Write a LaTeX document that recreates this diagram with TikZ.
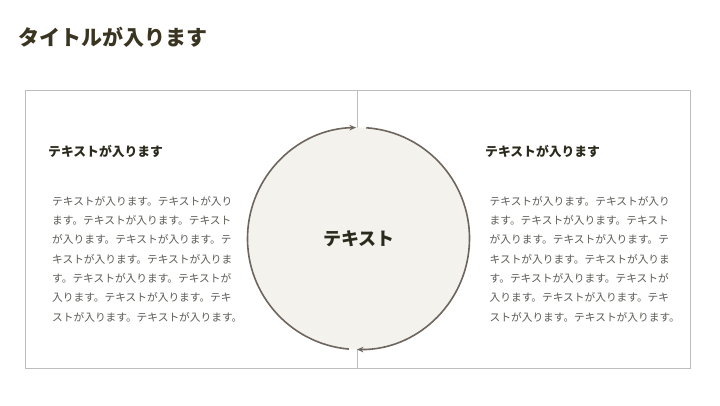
\documentclass[tikz,border=0pt]{standalone}
\usepackage{fontspec}
\newfontfamily\jp{Noto Sans CJK JP}
\usetikzlibrary{arrows.meta}
\definecolor{titlecol}{HTML}{3A3520}
\definecolor{headcol}{HTML}{2B2A1C}
\definecolor{bodycol}{HTML}{5A5A55}
\definecolor{framecol}{HTML}{BDBDBD}
\definecolor{circfill}{HTML}{F3F2EC}
\definecolor{arccol}{HTML}{6E665E}
\tikzset{
  frame/.style={draw=framecol, line width=1pt},
  divider/.style={draw=framecol, line width=1pt},
  cyclearc/.style={draw=arccol, line width=1.6pt, -{Stealth[length=6.5pt,width=5.5pt]}},
  heading/.style={anchor=west, inner sep=0pt, text=headcol, font=\jp\bfseries\fontsize{12.8}{15}\selectfont},
  bodytext/.style={anchor=north west, inner sep=0pt, align=left, text=bodycol, font=\jp\fontsize{10.7}{19.3}\selectfont},
}
\begin{document}
\begin{tikzpicture}[x=1pt,y=-1pt]
\useasboundingbox (0,0) rectangle (720,405);
\fill[white] (0,0) rectangle (720,405);
\node[anchor=west, inner sep=0pt, text=titlecol, font=\jp\bfseries\fontsize{21}{24}\selectfont] (title) at (18,37) {タイトルが入ります};
\draw[frame] (25,90) rectangle (690,368);
\coordinate (topmid) at (357.5,90);
\coordinate (botmid) at (357.5,368);
\draw[divider] (topmid) -- (botmid);
\coordinate (c) at (358.5,238.5);
\fill[circfill] (c) circle[radius=111];
\draw[cyclearc] ([shift={(-86:111)}]c) arc[start angle=-86, end angle=90.8, radius=111];
\draw[cyclearc] ([shift={(95:111)}]c) arc[start angle=95, end angle=268.7, radius=111];
\node[inner sep=0pt, text=headcol, font=\jp\bfseries\fontsize{18}{20}\selectfont] (center) at (359,239) {テキスト};
\node[heading] (lhead) at (48,151) {テキストが入ります};
\node[heading] (rhead) at (485,151) {テキストが入ります};
\node[bodytext] (lbody) at (52,196) {テキストが入ります。テキストが入り\\ます。テキストが入ります。テキスト\\が入ります。テキストが入ります。テ\\キストが入ります。テキストが入りま\\す。テキストが入ります。テキストが\\入ります。テキストが入ります。テキ\\ストが入ります。テキストが入ります。};
\node[bodytext] (rbody) at (489.5,196) {テキストが入ります。テキストが入り\\ます。テキストが入ります。テキスト\\が入ります。テキストが入ります。テ\\キストが入ります。テキストが入りま\\す。テキストが入ります。テキストが\\入ります。テキストが入ります。テキ\\ストが入ります。テキストが入ります。};
\end{tikzpicture}
\end{document}
